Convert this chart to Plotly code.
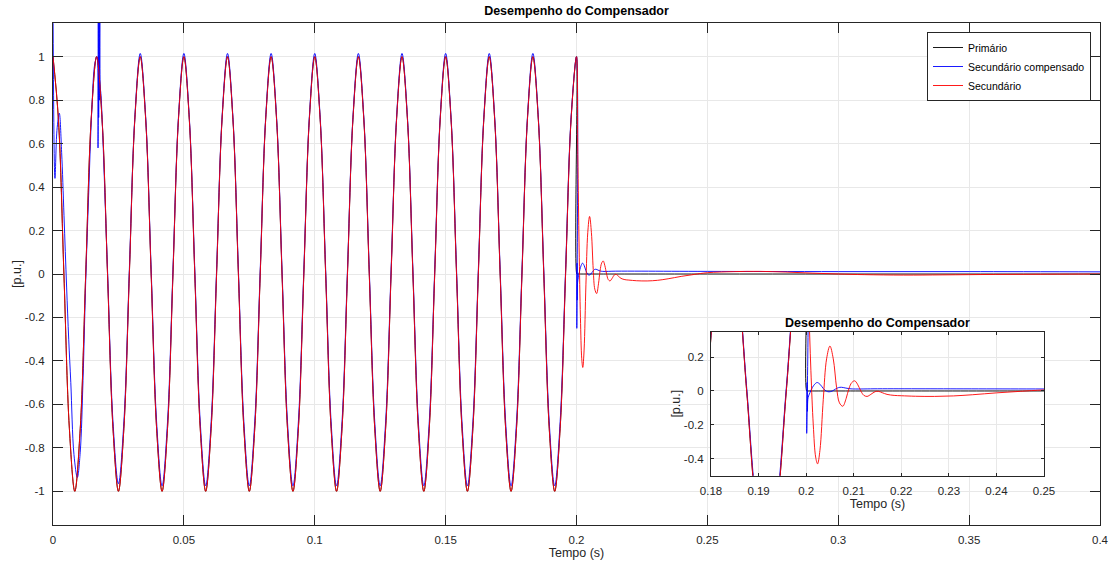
import plotly.graph_objects as go

# ---------------- data ----------------
# sample times (s) for the steady-state 60 Hz part (eighth-period samples)
tempo_pre = [
    0.0, 0.00208, 0.00417, 0.00625, 0.00833, 0.01042, 0.0125, 0.01458,
    0.01667, 0.01875, 0.02083, 0.02292, 0.025, 0.02708, 0.02917, 0.03125,
    0.03333, 0.03542, 0.0375, 0.03958, 0.04167, 0.04375, 0.04583, 0.04792,
    0.05, 0.05208, 0.05417, 0.05625, 0.05833, 0.06042, 0.0625, 0.06458,
    0.06667, 0.06875, 0.07083, 0.07292, 0.075, 0.07708, 0.07917, 0.08125,
    0.08333, 0.08542, 0.0875, 0.08958, 0.09167, 0.09375, 0.09583, 0.09792,
    0.1, 0.10208, 0.10417, 0.10625, 0.10833, 0.11042, 0.1125, 0.11458,
    0.11667, 0.11875, 0.12083, 0.12292, 0.125, 0.12708, 0.12917, 0.13125,
    0.13333, 0.13542, 0.1375, 0.13958, 0.14167, 0.14375, 0.14583, 0.14792,
    0.15, 0.15208, 0.15417, 0.15625, 0.15833, 0.16042, 0.1625, 0.16458,
    0.16667, 0.16875, 0.17083, 0.17292, 0.175, 0.17708, 0.17917, 0.18125,
    0.18333, 0.18542, 0.1875, 0.18958, 0.19167, 0.19375, 0.19583, 0.19792,
    0.2,
]

# Primario (black) values at tempo_pre
primario_pre = [
    1.0, 0.71, 0.0, -0.71, -1.0, -0.71, 0.0, 0.71,
    1.0, 0.71, 0.0, -0.71, -1.0, -0.71, 0.0, 0.71,
    1.0, 0.71, 0.0, -0.71, -1.0, -0.71, 0.0, 0.71,
    1.0, 0.71, 0.0, -0.71, -1.0, -0.71, 0.0, 0.71,
    1.0, 0.71, 0.0, -0.71, -1.0, -0.71, 0.0, 0.71,
    1.0, 0.71, 0.0, -0.71, -1.0, -0.71, 0.0, 0.71,
    1.0, 0.71, 0.0, -0.71, -1.0, -0.71, 0.0, 0.71,
    1.0, 0.71, 0.0, -0.71, -1.0, -0.71, 0.0, 0.71,
    1.0, 0.71, 0.0, -0.71, -1.0, -0.71, 0.0, 0.71,
    1.0, 0.71, 0.0, -0.71, -1.0, -0.71, 0.0, 0.71,
    1.0, 0.71, 0.0, -0.71, -1.0, -0.71, 0.0, 0.71,
    1.0, 0.71, 0.0, -0.71, -1.0, -0.71, 0.0, 0.71,
    1.0,
]
primario_pos_t = [0.20012, 0.2003, 0.201, 0.205, 0.25, 0.3, 0.35, 0.4]
primario_pos_v = [0.0, 0.0, 0.0, 0.0, 0.0, 0.0, 0.0, 0.0]

# Secundario (red): same as primario before 0.2 s, then damped transient
secundario_pre = [
    1.0, 0.71, 0.0, -0.71, -1.0, -0.71, 0.0, 0.71,
    1.0, 0.71, 0.0, -0.71, -1.0, -0.71, 0.0, 0.71,
    1.0, 0.71, 0.0, -0.71, -1.0, -0.71, 0.0, 0.71,
    1.0, 0.71, 0.0, -0.71, -1.0, -0.71, 0.0, 0.71,
    1.0, 0.71, 0.0, -0.71, -1.0, -0.71, 0.0, 0.71,
    1.0, 0.71, 0.0, -0.71, -1.0, -0.71, 0.0, 0.71,
    1.0, 0.71, 0.0, -0.71, -1.0, -0.71, 0.0, 0.71,
    1.0, 0.71, 0.0, -0.71, -1.0, -0.71, 0.0, 0.71,
    1.0, 0.71, 0.0, -0.71, -1.0, -0.71, 0.0, 0.71,
    1.0, 0.71, 0.0, -0.71, -1.0, -0.71, 0.0, 0.71,
    1.0, 0.71, 0.0, -0.71, -1.0, -0.71, 0.0, 0.71,
    1.0, 0.71, 0.0, -0.71, -1.0, -0.71, 0.0, 0.71,
    1.0,
]
secundario_pos_t = [
    0.2005, 0.201, 0.2015, 0.202, 0.2024, 0.2029, 0.2036, 0.2043, 0.205,
    0.2057, 0.2064, 0.207, 0.2077, 0.2084, 0.209, 0.2096, 0.2102, 0.2108,
    0.2115, 0.2121, 0.2128, 0.2136, 0.2145, 0.2152, 0.216, 0.217, 0.2185,
    0.22, 0.223, 0.227, 0.231, 0.235, 0.24, 0.245, 0.25, 0.26, 0.27, 0.28,
    0.29, 0.3, 0.31, 0.325, 0.34, 0.36, 0.38, 0.4,
]
secundario_pos_v = [
    0.55, 0.12, -0.2, -0.39, -0.43, -0.35, -0.05, 0.19, 0.265,
    0.19, 0.02, -0.07, -0.09, -0.045, 0.015, 0.05, 0.06, 0.04,
    0.0, -0.025, -0.032, -0.02, -0.004, -0.002, -0.01, -0.02, -0.026,
    -0.028, -0.031, -0.032, -0.029, -0.022, -0.011, -0.002, 0.006, 0.011, 0.012, 0.009,
    0.004, 0.0, -0.003, -0.005, -0.004, -0.002, -0.001, 0.0,
]

# Secundario compensado (blue): initial transient, then steady state, then transient
compensado_ini_t = [
    0.0, 0.00075, 0.0015, 0.0024, 0.0033, 0.0042, 0.0052, 0.006, 0.0068,
    0.008, 0.0093, 0.0104, 0.01146, 0.0125, 0.0136, 0.0148, 0.016, 0.0168,
    0.01715, 0.0172, 0.0173, 0.01745, 0.0176, 0.01775, 0.0179, 0.01805,
    0.0183, 0.01875,
]
compensado_ini_v = [
    1.25, 0.44, 0.66, 0.74, 0.56, 0.27, -0.06, -0.3, -0.5,
    -0.83, -0.936, -0.82, -0.49, -0.03, 0.36, 0.75, 0.97, 1.0,
    0.96, 0.58, 1.25, 0.72, 1.25, 0.8, 1.25, 0.86,
    0.83, 0.72,
]
# values at tempo_pre[10:]
compensado_reg_v = [
    0.02, -0.68, -0.965, -0.68, 0.02, 0.72,
    1.015, 0.72, 0.02, -0.68, -0.975, -0.68, 0.02, 0.72,
    1.015, 0.72, 0.02, -0.68, -0.975, -0.68, 0.02, 0.72,
    1.015, 0.72, 0.02, -0.68, -0.975, -0.68, 0.02, 0.72,
    1.015, 0.72, 0.02, -0.68, -0.975, -0.68, 0.02, 0.72,
    1.015, 0.72, 0.02, -0.68, -0.975, -0.68, 0.02, 0.72,
    1.015, 0.72, 0.02, -0.68, -0.975, -0.68, 0.02, 0.72,
    1.015, 0.72, 0.02, -0.68, -0.975, -0.68, 0.02, 0.72,
    1.015, 0.72, 0.02, -0.68, -0.975, -0.68, 0.02, 0.72,
    1.015, 0.72, 0.02, -0.68, -0.975, -0.68, 0.02, 0.72,
    1.015, 0.72, 0.02, -0.68, -0.975, -0.68, 0.02, 0.72,
    1.0,
]
compensado_pos_t = [
    0.20012, 0.2002, 0.20028, 0.2004, 0.2008, 0.2013, 0.2018, 0.2023, 0.2029,
    0.2036, 0.2042, 0.2048, 0.2055, 0.2062, 0.2068, 0.2074, 0.2082, 0.209,
    0.21, 0.215, 0.225, 0.25, 0.3, 0.35, 0.4,
]
compensado_pos_v = [
    -0.25, 0.05, -0.12, -0.04, -0.01, 0.02, 0.04, 0.05, 0.04,
    0.015, 0.0, -0.005, 0.0, 0.012, 0.02, 0.022, 0.018, 0.014,
    0.012, 0.013, 0.013, 0.012, 0.011, 0.011, 0.01,
]

# axis ticks
x_ticks = [0, 0.05, 0.1, 0.15, 0.2, 0.25, 0.3, 0.35, 0.4]
x_ticklabels = ["0", "0.05", "0.1", "0.15", "0.2", "0.25", "0.3", "0.35", "0.4"]
y_ticks = [-1, -0.8, -0.6, -0.4, -0.2, 0, 0.2, 0.4, 0.6, 0.8, 1]
y_ticklabels = ["-1", "-0.8", "-0.6", "-0.4", "-0.2", "0", "0.2", "0.4", "0.6", "0.8", "1"]
xi_ticks = [0.18, 0.19, 0.2, 0.21, 0.22, 0.23, 0.24, 0.25]
xi_ticklabels = ["0.18", "0.19", "0.2", "0.21", "0.22", "0.23", "0.24", "0.25"]
yi_ticks = [-0.4, -0.2, 0, 0.2]
yi_ticklabels = ["-0.4", "-0.2", "0", "0.2"]

# ---------------- assemble series ----------------
prim_t = tempo_pre + primario_pos_t
prim_v = primario_pre + primario_pos_v
sec_t = tempo_pre + secundario_pos_t
sec_v = secundario_pre + secundario_pos_v
comp_t = compensado_ini_t + tempo_pre[10:] + compensado_pos_t
comp_v = compensado_ini_v + compensado_reg_v + compensado_pos_v

series = [
    ("Primário", prim_t, prim_v, "#000000"),
    ("Secundário compensado", comp_t, comp_v, "#0000ff"),
    ("Secundário", sec_t, sec_v, "#ff0000"),
]

FONT = "Liberation Sans, Arial, sans-serif"
AX = "#262626"
GRID = "#e8e8e8"
LW = 0.9

fig = go.Figure()
for name, t, v, c in series:
    fig.add_trace(go.Scatter(x=t, y=v, mode="lines", name=name,
                             line=dict(color=c, width=LW, shape="spline", smoothing=1.0),
                             xaxis="x", yaxis="y"))
for name, t, v, c in series:
    fig.add_trace(go.Scatter(x=t, y=v, mode="lines", name=name, showlegend=False,
                             line=dict(color=c, width=LW, shape="spline", smoothing=1.0),
                             xaxis="x2", yaxis="y2"))

axis_common = dict(showline=True, linecolor=AX, linewidth=1, mirror="ticks",
                   ticks="inside", tickcolor=AX, tickwidth=1,
                   showgrid=True, gridcolor=GRID, gridwidth=1, zeroline=False,
                   tickfont=dict(family=FONT, size=11.5, color=AX))

W, H = 1117, 568
L, R, T, B = 53, 17, 23, 43
pw, ph = W - L - R, H - T - B

def px_x(px):
    return (px - L) / pw

def px_y(py):
    return (H - B - py) / ph

fig.update_layout(
    width=W, height=H,
    margin=dict(l=L, r=R, t=T, b=B, autoexpand=False),
    paper_bgcolor="white", plot_bgcolor="white",
    font=dict(family=FONT, color=AX),
    title=dict(text="<b>Desempenho do Compensador</b>", x=0.5, xref="paper",
               xanchor="center", y=1 - 10.5 / H, yref="container", yanchor="middle",
               font=dict(family=FONT, size=12.5, color="#000000")),
    xaxis=dict(domain=[0, 1], anchor="y", range=[0, 0.4],
               tickvals=x_ticks, ticktext=x_ticklabels, ticklen=10,
               ticklabelstandoff=4,
               title=dict(text="Tempo (s)", standoff=3,
                          font=dict(family=FONT, size=12.5, color=AX)),
               **axis_common),
    yaxis=dict(domain=[0, 1], anchor="x", range=[-1.155, 1.155],
               tickvals=y_ticks, ticktext=y_ticklabels, ticklen=10,
               ticklabelstandoff=5,
               title=dict(text="[p.u.]", standoff=0,
                          font=dict(family=FONT, size=12.5, color=AX)),
               **axis_common),
    xaxis2=dict(domain=[px_x(711), px_x(1044)], anchor="y2", range=[0.18, 0.25],
                tickvals=xi_ticks, ticktext=xi_ticklabels, ticklen=3,
                ticklabelstandoff=4,
                title=dict(text="Tempo (s)", standoff=3,
                           font=dict(family=FONT, size=12.5, color=AX)),
                **axis_common),
    yaxis2=dict(domain=[px_y(475.7), px_y(331.7)], anchor="x2", range=[-0.5, 0.35],
                tickvals=yi_ticks, ticktext=yi_ticklabels, ticklen=3,
                ticklabelstandoff=4,
                title=dict(text="[p.u.]", standoff=0,
                           font=dict(family=FONT, size=12.5, color=AX)),
                **axis_common),
    legend=dict(x=px_x(1091), y=px_y(32), xanchor="right", yanchor="top",
                bgcolor="white", bordercolor=AX, borderwidth=1,
                font=dict(family=FONT, size=10.5, color="#000000"),
                tracegroupgap=0),
    showlegend=True,
)

# white patch behind the inset (covers main grid around inset labels)
fig.add_shape(type="rect", xref="paper", yref="paper",
              x0=px_x(653), x1=px_x(1080), y0=px_y(508), y1=px_y(311),
              fillcolor="white", line=dict(width=0), layer="between")

fig.add_annotation(text="<b>Desempenho do Compensador</b>", xref="paper", yref="paper",
                   x=px_x(877.5), y=px_y(322.5), xanchor="center", yanchor="middle",
                   showarrow=False, font=dict(family=FONT, size=12.5, color="#000000"))

fig.write_html("out.html")
